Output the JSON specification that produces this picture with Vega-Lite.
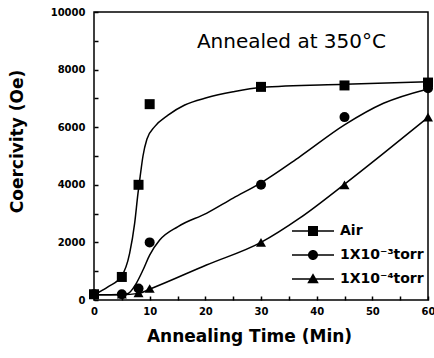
{
  "$schema": "https://vega.github.io/schema/vega-lite/v6.json",
  "width": 334,
  "height": 288,
  "autosize": "none",
  "padding": {"left": 94, "top": 12, "right": 6, "bottom": 58},
  "background": "white",
  "title": {
    "text": "Annealed at 350°C",
    "anchor": "end",
    "frame": "group",
    "dx": -42,
    "dy": 24,
    "offset": -37,
    "baseline": "alphabetic",
    "font": "DejaVu Sans",
    "fontSize": 20,
    "fontWeight": "normal",
    "color": "black"
  },
  "datasets": {
    "points": [
      {"series": "Air", "time": 0, "coercivity": 200},
      {"series": "Air", "time": 5, "coercivity": 800},
      {"series": "Air", "time": 8, "coercivity": 4000},
      {"series": "Air", "time": 10, "coercivity": 6800},
      {"series": "Air", "time": 30, "coercivity": 7400},
      {"series": "Air", "time": 45, "coercivity": 7450},
      {"series": "Air", "time": 60, "coercivity": 7550},
      {"series": "1X10⁻³torr", "time": 0, "coercivity": 200},
      {"series": "1X10⁻³torr", "time": 5, "coercivity": 200},
      {"series": "1X10⁻³torr", "time": 8, "coercivity": 400},
      {"series": "1X10⁻³torr", "time": 10, "coercivity": 2000},
      {"series": "1X10⁻³torr", "time": 30, "coercivity": 4000},
      {"series": "1X10⁻³torr", "time": 45, "coercivity": 6350},
      {"series": "1X10⁻³torr", "time": 60, "coercivity": 7350},
      {"series": "1X10⁻⁴torr", "time": 0, "coercivity": 200},
      {"series": "1X10⁻⁴torr", "time": 5, "coercivity": 200},
      {"series": "1X10⁻⁴torr", "time": 8, "coercivity": 250},
      {"series": "1X10⁻⁴torr", "time": 10, "coercivity": 400},
      {"series": "1X10⁻⁴torr", "time": 30, "coercivity": 2000},
      {"series": "1X10⁻⁴torr", "time": 45, "coercivity": 4000},
      {"series": "1X10⁻⁴torr", "time": 60, "coercivity": 6350}
    ],
    "curves": [
      {"series": "Air", "time": 0, "coercivity": 180},
      {"series": "Air", "time": 2.5, "coercivity": 460},
      {"series": "Air", "time": 4.9, "coercivity": 810},
      {"series": "Air", "time": 6.4, "coercivity": 1620},
      {"series": "Air", "time": 7.3, "coercivity": 2660},
      {"series": "Air", "time": 7.9, "coercivity": 3700},
      {"series": "Air", "time": 8.3, "coercivity": 4300},
      {"series": "Air", "time": 8.8, "coercivity": 5000},
      {"series": "Air", "time": 9.5, "coercivity": 5580},
      {"series": "Air", "time": 10.9, "coercivity": 6020},
      {"series": "Air", "time": 13.3, "coercivity": 6420},
      {"series": "Air", "time": 16.3, "coercivity": 6770},
      {"series": "Air", "time": 20.2, "coercivity": 7020},
      {"series": "Air", "time": 25, "coercivity": 7230},
      {"series": "Air", "time": 30, "coercivity": 7380},
      {"series": "Air", "time": 45, "coercivity": 7490},
      {"series": "Air", "time": 60, "coercivity": 7580},
      {"series": "1X10⁻³torr", "time": 0, "coercivity": 180},
      {"series": "1X10⁻³torr", "time": 3, "coercivity": 180},
      {"series": "1X10⁻³torr", "time": 6, "coercivity": 220},
      {"series": "1X10⁻³torr", "time": 7.6, "coercivity": 580},
      {"series": "1X10⁻³torr", "time": 8.8, "coercivity": 1040},
      {"series": "1X10⁻³torr", "time": 10, "coercivity": 1560},
      {"series": "1X10⁻³torr", "time": 11.8, "coercivity": 2080},
      {"series": "1X10⁻³torr", "time": 15.1, "coercivity": 2550},
      {"series": "1X10⁻³torr", "time": 20.2, "coercivity": 3010},
      {"series": "1X10⁻³torr", "time": 25, "coercivity": 3540},
      {"series": "1X10⁻³torr", "time": 30, "coercivity": 4070},
      {"series": "1X10⁻³torr", "time": 37, "coercivity": 4980},
      {"series": "1X10⁻³torr", "time": 45, "coercivity": 6080},
      {"series": "1X10⁻³torr", "time": 52, "coercivity": 6830},
      {"series": "1X10⁻³torr", "time": 60, "coercivity": 7330},
      {"series": "1X10⁻⁴torr", "time": 0, "coercivity": 180},
      {"series": "1X10⁻⁴torr", "time": 5, "coercivity": 180},
      {"series": "1X10⁻⁴torr", "time": 8, "coercivity": 230},
      {"series": "1X10⁻⁴torr", "time": 10.3, "coercivity": 400},
      {"series": "1X10⁻⁴torr", "time": 20.2, "coercivity": 1215},
      {"series": "1X10⁻⁴torr", "time": 30, "coercivity": 2000},
      {"series": "1X10⁻⁴torr", "time": 37, "coercivity": 2850},
      {"series": "1X10⁻⁴torr", "time": 44.8, "coercivity": 3990},
      {"series": "1X10⁻⁴torr", "time": 52, "coercivity": 5090},
      {"series": "1X10⁻⁴torr", "time": 60, "coercivity": 6340}
    ]
  },
  "resolve": {"scale": {"shape": "independent"}, "legend": {"shape": "independent"}},
  "layer": [
    {
      "data": {"name": "curves"},
      "mark": {"type": "line", "interpolate": "monotone", "color": "black", "strokeWidth": 1.5},
      "encoding": {
        "x": {
          "field": "time", "type": "quantitative",
          "scale": {"domain": [0, 60], "nice": false},
          "axis": {
            "title": "Annealing Time (Min)",
            "values": [0, 5, 10, 15, 20, 25, 30, 35, 40, 45, 50, 55, 60],
            "tickCount": 100,
            "format": "d",
            "labelExpr": "datum.value % 10 == 0 ? datum.label : ''",
            "labelPadding": 6,
            "titlePadding": 12,
            "titleX": 155
          }
        },
        "y": {
          "field": "coercivity", "type": "quantitative",
          "scale": {"domain": [0, 10000], "nice": false},
          "axis": {
            "title": "Coercivity (Oe)",
            "values": [0, 1000, 2000, 3000, 4000, 5000, 6000, 7000, 8000, 9000, 10000],
            "tickCount": 100,
            "format": "d",
            "labelExpr": "datum.value % 2000 == 0 ? datum.label : ''",
            "labelPadding": 9,
            "titlePadding": 24,
            "titleY": 129
          }
        },
        "detail": {"field": "series", "type": "nominal"}
      }
    },
    {
      "data": {"name": "points"},
      "mark": {"type": "point", "filled": true, "color": "black", "opacity": 1, "size": 100},
      "encoding": {
        "x": {"field": "time", "type": "quantitative"},
        "y": {"field": "coercivity", "type": "quantitative"},
        "shape": {
          "field": "series", "type": "nominal",
          "scale": {"domain": ["Air", "1X10⁻³torr", "1X10⁻⁴torr"], "range": ["square", "circle", "triangle-up"]},
          "legend": null
        }
      }
    },
    {
      "data": {"name": "points"},
      "mark": {"type": "point", "filled": true, "color": "black", "opacity": 0, "size": 100},
      "encoding": {
        "x": {"field": "time", "type": "quantitative"},
        "y": {"field": "coercivity", "type": "quantitative"},
        "shape": {
          "field": "series", "type": "nominal",
          "scale": {
            "domain": ["Air", "1X10⁻³torr", "1X10⁻⁴torr"],
            "range": [
              "M-4.2,-0.15H4.2V0.15H-4.2ZM-1,-1H1V1H-1Z",
              "M-4.2,-0.15H4.2V0.15H-4.2ZM1,0A1,1,0,1,1,-1,0A1,1,0,1,1,1,0Z",
              "M-4.2,-0.15H4.2V0.15H-4.2ZM0,-1.15L1.15,0.85H-1.15Z"
            ]
          },
          "legend": {
            "orient": "none",
            "legendX": 196,
            "legendY": 212,
            "title": null,
            "labelFont": "DejaVu Sans",
            "labelFontSize": 14,
            "labelFontWeight": "bold",
            "labelColor": "black",
            "symbolSize": 100,
            "symbolOffset": 16,
            "labelOffset": 20,
            "rowPadding": 10,
            "symbolOpacity": 1,
            "symbolFillColor": "black",
            "symbolStrokeWidth": 0
          }
        }
      }
    }
  ],
  "config": {
    "view": {"stroke": "black", "strokeWidth": 1.5},
    "axis": {
      "grid": false,
      "domain": false,
      "offset": -4,
      "tickColor": "black",
      "tickWidth": 1.5,
      "tickSize": 4,
      "labelFont": "DejaVu Sans",
      "labelFontSize": 10,
      "labelFontWeight": "bold",
      "labelColor": "black",
      "labelFlush": false,
      "labelOverlap": false,
      "labelBound": false,
      "titleFont": "DejaVu Sans",
      "titleFontSize": 17,
      "titleFontWeight": "bold",
      "titleColor": "black"
    }
  }
}
